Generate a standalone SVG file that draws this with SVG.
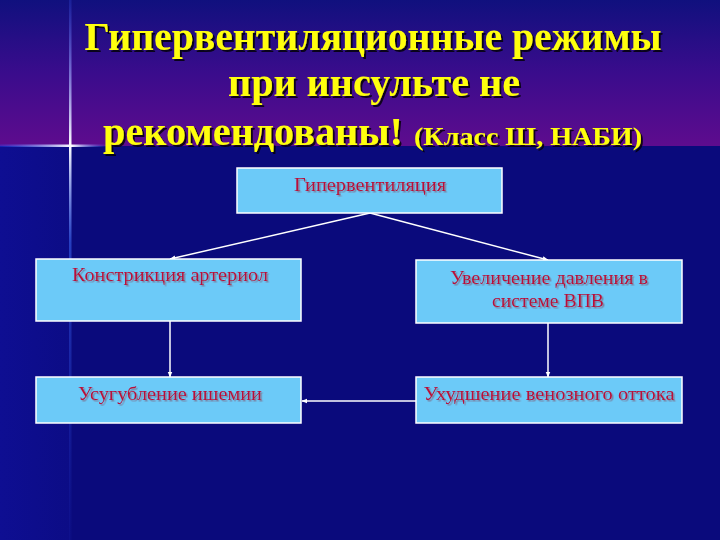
<svg xmlns="http://www.w3.org/2000/svg" width="720" height="540" viewBox="0 0 720 540">
<defs>
<linearGradient id="hdr" x1="0" y1="0" x2="0" y2="1">
<stop offset="0" stop-color="#10107e"/>
<stop offset="0.5" stop-color="#3a0c8c"/>
<stop offset="1" stop-color="#5e0c8e"/>
</linearGradient>
<linearGradient id="vline" x1="0" y1="0" x2="0" y2="1">
<stop offset="0" stop-color="#4060ff" stop-opacity="0.2"/>
<stop offset="0.27" stop-color="#ffffff" stop-opacity="1"/>
<stop offset="0.45" stop-color="#4070ff" stop-opacity="0.5"/>
<stop offset="1" stop-color="#2030c0" stop-opacity="0.1"/>
</linearGradient>
<linearGradient id="hline" x1="0" y1="0" x2="1" y2="0">
<stop offset="0" stop-color="#3050ff" stop-opacity="0.3"/>
<stop offset="0.65" stop-color="#ffffff" stop-opacity="1"/>
<stop offset="1" stop-color="#3050ff" stop-opacity="0"/>
</linearGradient>
<linearGradient id="leftstrip" x1="0" y1="0" x2="1" y2="0">
<stop offset="0" stop-color="#0e0e92"/>
<stop offset="1" stop-color="#0c0c86"/>
</linearGradient>
<marker id="arr" viewBox="0 0 10 10" refX="9" refY="5" markerWidth="6" markerHeight="6" orient="auto" markerUnits="userSpaceOnUse">
<path d="M0,1 L10,5 L0,9 z" fill="#ffffff"/>
</marker>
<filter id="tsh" x="-5%" y="-20%" width="110%" height="140%">
<feDropShadow dx="2" dy="2" stdDeviation="0.6" flood-color="#000000" flood-opacity="0.8"/>
</filter>
<filter id="bsh" x="-5%" y="-20%" width="110%" height="140%">
<feDropShadow dx="1.5" dy="1.5" stdDeviation="0.4" flood-color="#7a7a9a" flood-opacity="0.9"/>
</filter>
</defs>
<style>
.box{fill:#6ccaf8;stroke:#ffffff;stroke-width:1.5}
.bt{font-family:"Liberation Serif","Times New Roman",serif;font-size:18px;fill:#b8103a;text-anchor:middle;filter:url(#bsh)}
.title{font-family:"Liberation Serif","Times New Roman",serif;font-weight:bold;fill:#ffff10;filter:url(#tsh)}
.con{stroke:#ffffff;stroke-width:1.5;fill:none;marker-end:url(#arr)}
</style>
<rect x="0" y="0" width="720" height="540" fill="#0a0a7c"/>
<rect x="0" y="146" width="70" height="394" fill="url(#leftstrip)"/>
<rect x="0" y="0" width="720" height="146" fill="url(#hdr)"/>
<rect x="69" y="0" width="2.5" height="540" fill="url(#vline)"/>
<rect x="0" y="144.5" width="110" height="2.5" fill="url(#hline)"/>
<g id="title">
<text class="title" x="373" y="50" font-size="41" text-anchor="middle" textLength="577" lengthAdjust="spacingAndGlyphs">Гипервентиляционные режимы</text>
<text class="title" x="374" y="96" font-size="41" text-anchor="middle" textLength="292" lengthAdjust="spacingAndGlyphs">при инсульте не</text>
<text class="title" x="103" y="145" font-size="41" textLength="300" lengthAdjust="spacingAndGlyphs">рекомендованы!</text>
<text class="title" x="414" y="145" font-size="25" textLength="228" lengthAdjust="spacingAndGlyphs">(Класс Ш, НАБИ)</text>
</g>
<g id="connectors">
<line class="con" x1="370" y1="213" x2="170" y2="259"/>
<line class="con" x1="370" y1="213" x2="548" y2="260"/>
<line class="con" x1="170" y1="321" x2="170" y2="377"/>
<line class="con" x1="548" y1="323" x2="548" y2="377"/>
<line class="con" x1="416" y1="401" x2="302" y2="401"/>
</g>
<g id="n-hyperventilation">
<rect class="box" x="237" y="168" width="265" height="45"/>
<text class="bt" x="370" y="191" textLength="152" lengthAdjust="spacingAndGlyphs">Гипервентиляция</text>
</g>
<g id="n-constriction">
<rect class="box" x="36" y="259" width="265" height="62"/>
<text class="bt" x="170" y="281" textLength="196" lengthAdjust="spacingAndGlyphs">Констрикция артериол</text>
</g>
<g id="n-pressure">
<rect class="box" x="416" y="260" width="266" height="63"/>
<text class="bt" x="549" y="284" textLength="198" lengthAdjust="spacingAndGlyphs">Увеличение давления в</text>
<text class="bt" x="548" y="307" textLength="112" lengthAdjust="spacingAndGlyphs">системе ВПВ</text>
</g>
<g id="n-ischemia">
<rect class="box" x="36" y="377" width="265" height="46"/>
<text class="bt" x="170" y="400" textLength="184" lengthAdjust="spacingAndGlyphs">Усугубление ишемии</text>
</g>
<g id="n-outflow">
<rect class="box" x="416" y="377" width="266" height="46"/>
<text class="bt" x="549" y="400" textLength="251" lengthAdjust="spacingAndGlyphs">Ухудшение венозного оттока</text>
</g>
</svg>
